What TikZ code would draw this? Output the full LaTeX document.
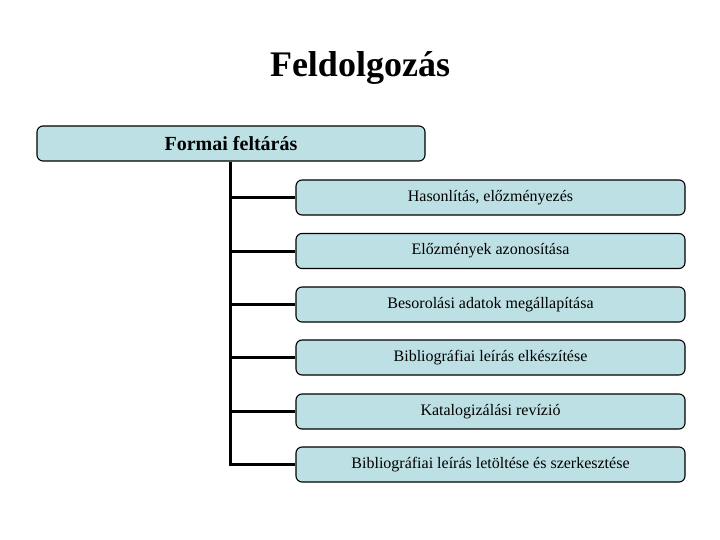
\documentclass[tikz,border=0pt]{standalone}
\usepackage{fontspec}
\setmainfont{Liberation Serif}
\definecolor{boxfill}{HTML}{BDE0E4}
\begin{document}
\begin{tikzpicture}[x=1pt,y=-1pt,
  topbox/.style={draw=black,line width=1.1pt,fill=boxfill,rounded corners=6pt,minimum width=388pt,minimum height=35pt,inner sep=0pt,font=\fontsize{20}{24}\selectfont\bfseries},
  childbox/.style={draw=black,line width=1.1pt,fill=boxfill,rounded corners=6pt,minimum width=389pt,minimum height=35pt,inner sep=0pt,font=\fontsize{16}{19}\selectfont},
  conn/.style={line width=3pt}]
\useasboundingbox (0,0) rectangle (720,540);
\node[font=\fontsize{36}{42}\selectfont\bfseries] (title) at (360,68) {Feldolgozás};
\node[topbox] (top) at (231,143.5) {Formai feltárás};
\node[childbox] (c1) at (490.5,197.5) {Hasonlítás, előzményezés};
\node[childbox] (c2) at (490.5,251) {Előzmények azonosítása};
\node[childbox] (c3) at (490.5,304.5) {Besorolási adatok megállapítása};
\node[childbox] (c4) at (490.5,357.5) {Bibliográfiai leírás elkészítése};
\node[childbox] (c5) at (490.5,411.5) {Katalogizálási revízió};
\node[childbox] (c6) at (490.5,464.5) {Bibliográfiai leírás letöltése és szerkesztése};
\foreach \c in {c1,c2,c3,c4,c5,c6} {
  \draw[conn] ([xshift=-1pt]top.south) |- (\c.west);
}
\end{tikzpicture}
\end{document}
